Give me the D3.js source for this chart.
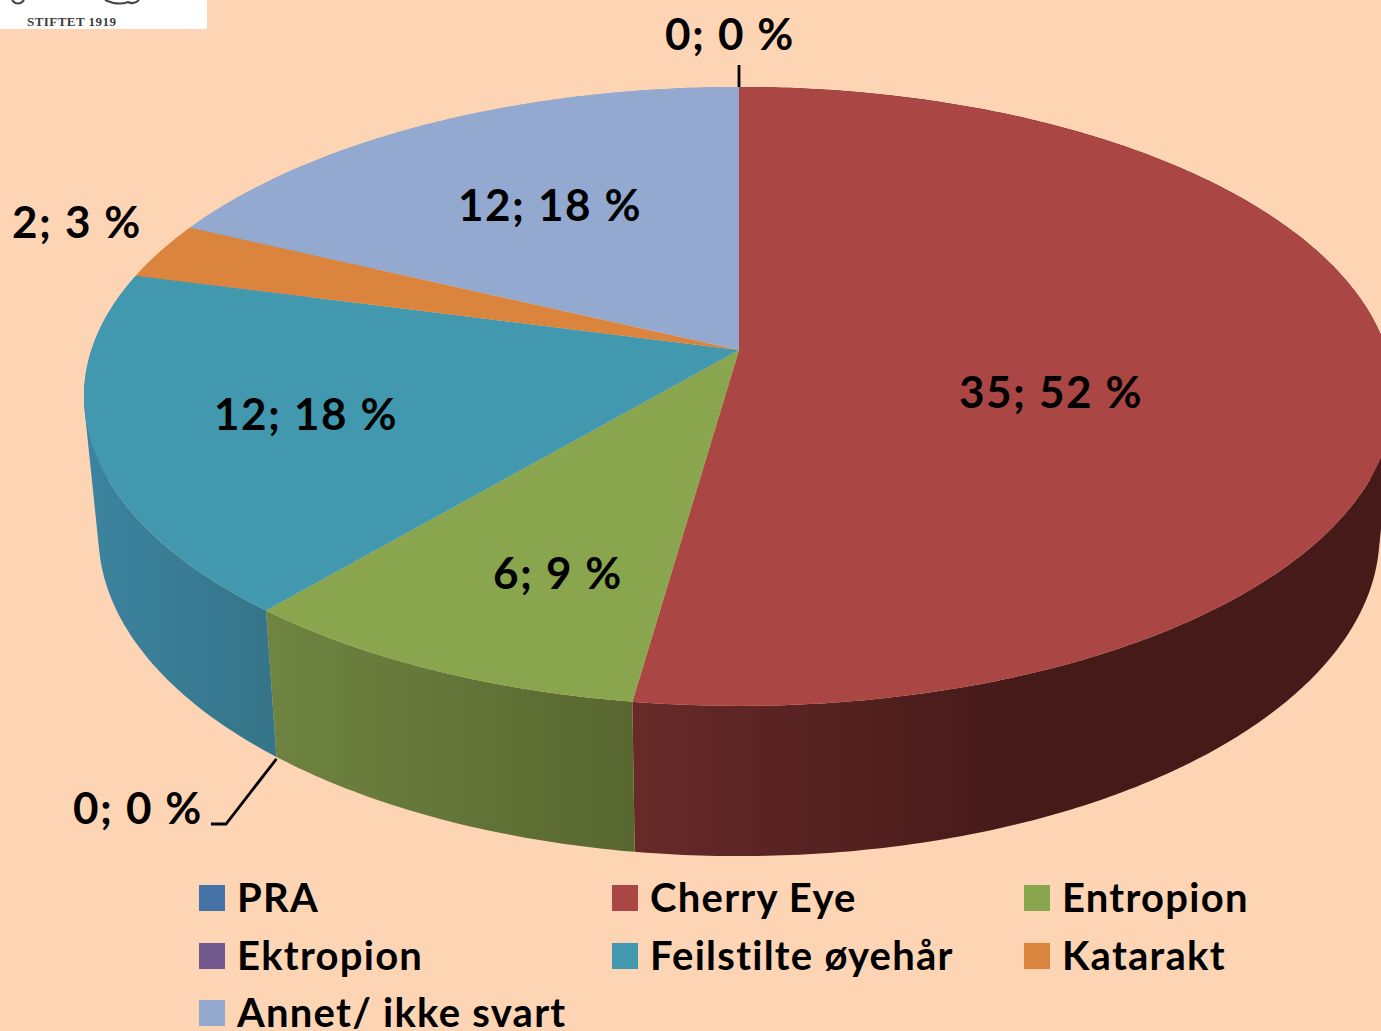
<!DOCTYPE html>
<html lang="nb">
<head>
<meta charset="UTF-8">
<title>Øyesykdommer</title>
<script src="https://cdn.jsdelivr.net/npm/d3@7"></script>
<style>
    html, body { margin: 0; padding: 0; background: #fdd5b5; }
    svg { display: block; }
    text { font-family: Lato, "Open Sans", sans-serif; font-weight: 700; fill: #000; }
</style>
</head>
<body>
<svg id="chart" width="1381" height="1031"></svg>
<script>
    var categories = ["PRA", "Cherry Eye", "Entropion", "Ektropion", "Feilstilte øyehår", "Katarakt", "Annet/ ikke svart"];
    var values = [0, 35, 6, 0, 12, 2, 12];
    var colors = ["#4572a7", "#aa4643", "#89a54e", "#71588f", "#4198af", "#db843d", "#93a9cf"];
    // side wall colours, left end and right end of each wedge
    var sideLeft = ["#4572a7", "#672a29", "#6f8441", "#71588f", "#3c84a0", "#db843d", "#93a9cf"];
    var sideRight = ["#4572a7", "#451a19", "#58672f", "#71588f", "#357488", "#db843d", "#93a9cf"];

    var svg = d3.select("#chart");
    var defs = svg.append("defs");

    // tilted disc: the circle seen in perspective
    var cx = 739, cy = 350, rx = 647.6, ry = 302.5, tilt = 0.15;
    function topRim(a) {
        var X = Math.sin(a), Y = -Math.cos(a), w = 1 - tilt * Y;
        return [cx + rx * X / w, cy + ry * Y / w];
    }
    // lower rim of the disc
    function bottomRim(a) {
        var p = topRim(a);
        return [cx + 0.978 * (p[0] - cx), cy + 136 + 1.04 * (p[1] - cy)];
    }
    function sweep(fn, a0, a1) {
        var n = Math.max(2, Math.ceil((a1 - a0) * 90)), pts = [];
        for (var i = 0; i <= n; i++) pts.push(fn(a0 + (a1 - a0) * i / n));
        return pts;
    }

    var line = d3.line();
    var arcs = d3.pie().sort(null).value(function (d) { return d; })(values);

    // logo scrap, top left
    var logo = svg.append("g");
    logo.append("rect").attr("width", 207).attr("height", 29).attr("fill", "#fff");
    logo.append("path").attr("d", "M12,0 Q18,7 24,0 M105,0 Q118,6 128,2 Q134,5 139,0")
        .attr("fill", "none").attr("stroke", "#444").attr("stroke-width", 2);
    logo.append("text").attr("x", 27).attr("y", 26)
        .style("font-family", "'Liberation Serif', serif")
        .style("font-size", "13px").style("letter-spacing", "0.45px").style("fill", "#3c3c3c").text("STIFTET 1919");

    // side walls first, the top face covers whatever sticks out at the back
    // one quad per step, all wound the same way so the fill is their union
    var sides = svg.append("g");
    arcs.forEach(function (d, i) {
        if (d.value === 0) return;
        var upper = sweep(topRim, d.startAngle, d.endAngle);
        var lower = sweep(bottomRim, d.startAngle, d.endAngle);
        var xs = upper.concat(lower).map(function (p) { return p[0]; });
        var x0 = d3.min(xs), x1 = Math.min(d3.max(xs), x0 + 375);
        var quads = d3.range(upper.length - 1).map(function (k) {
            var q = [upper[k], upper[k + 1], lower[k + 1], lower[k]];
            if (d3.polygonArea(q) < 0) q.reverse();
            return line(q) + "Z";
        });
        var id = "side" + i;
        var grad = defs.append("linearGradient").attr("id", id)
            .attr("gradientUnits", "userSpaceOnUse")
            .attr("x1", x0).attr("x2", x1)
            .attr("y1", 0).attr("y2", 0);
        grad.append("stop").attr("offset", 0).attr("stop-color", sideLeft[i]);
        grad.append("stop").attr("offset", 1).attr("stop-color", sideRight[i]);
        sides.append("path")
            .attr("d", quads.join(""))
            .attr("fill", "url(#" + id + ")");
    });

    // top face
    var faces = svg.append("g");
    arcs.forEach(function (d, i) {
        if (d.value === 0) return;
        var pts = [[cx, cy]].concat(sweep(topRim, d.startAngle, d.endAngle));
        faces.append("path")
            .attr("d", line(pts) + "Z")
            .attr("fill", colors[i]);
    });

    // value labels
    var total = d3.sum(values);
    var labelPos = [[730, 34], [1051, 392], [558, 573], [138, 808], [306, 414], [77, 222], [550, 205]];
    svg.append("g").selectAll("text")
        .data(values)
        .enter()
        .append("text")
        .attr("x", function (d, i) { return labelPos[i][0]; })
        .attr("y", function (d, i) { return labelPos[i][1]; })
        .attr("dy", "0.36em")
        .attr("text-anchor", "middle")
        .style("font-size", "44px")
        .style("letter-spacing", "1.6px")
        .text(function (d) { return d + "; " + Math.round(d / total * 100) + " %"; });

    // leader lines of the two empty wedges
    var pra = topRim(arcs[0].startAngle), ekt = bottomRim(arcs[3].startAngle);
    var leaders = [
        [[pra[0], pra[1]], [pra[0], 65]],
        [[ekt[0], ekt[1] + 2], [226, 824], [211, 824]]
    ];
    svg.append("g").selectAll("path")
        .data(leaders)
        .enter()
        .append("path")
        .attr("d", line)
        .attr("fill", "none")
        .attr("stroke", "#000")
        .attr("stroke-width", 2.8);

    // legend
    var legendX = [199, 612, 1024], legendY = [898, 956, 1013];
    var legend = svg.append("g").selectAll("g")
        .data(categories)
        .enter()
        .append("g")
        .attr("transform", function (d, i) {
            return "translate(" + legendX[i % 3] + "," + legendY[Math.floor(i / 3)] + ")";
        });
    legend.append("rect")
        .attr("y", -13).attr("width", 26).attr("height", 26)
        .attr("fill", function (d, i) { return colors[i]; });
    legend.append("text")
        .attr("x", 38)
        .attr("dy", "0.36em")
        .style("font-size", "40px")
        .style("letter-spacing", "1.25px")
        .text(function (d) { return d; });
</script>
</body>
</html>
